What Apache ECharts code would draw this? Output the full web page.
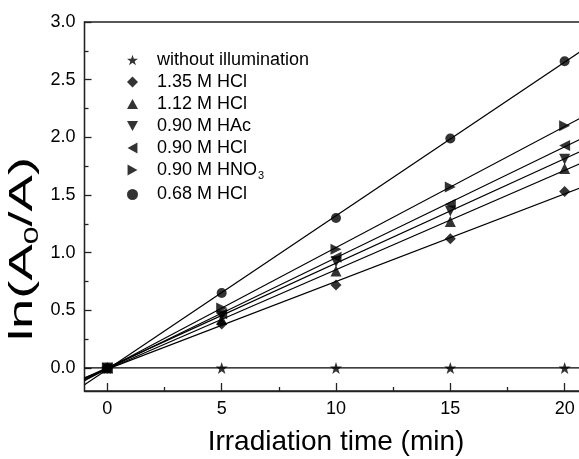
<!DOCTYPE html>
<html>
<head>
<meta charset="utf-8">
<script src="https://cdn.jsdelivr.net/npm/echarts@6/dist/echarts.min.js"></script>
<style>
html,body{margin:0;padding:0;background:#fff;}
#c{width:579px;height:459px;}
</style>
</head>
<body>
<div id="c"></div>
<script>
// ---- data ----
var time = [0, 5, 10, 15, 20];
var seriesNames = ['without illumination', '1.35 M HCl', '1.12 M HCl', '0.90 M HAc', '0.90 M HCl', '0.90 M HNO3', '0.68 M HCl'];
var darkVals   = [0, 0, 0, 0, 0];
var hcl135Vals = [0, 0.38, 0.72, 1.12, 1.53];
var hcl112Vals = [0, 0.42, 0.84, 1.27, 1.73];
var hac090Vals = [0, 0.45, 0.92, 1.36, 1.81];
var hcl090Vals = [0, 0.47, 0.96, 1.42, 1.93];
var hno3Vals   = [0, 0.52, 1.03, 1.57, 2.10];
var hcl068Vals = [0, 0.65, 1.30, 1.99, 2.66];
var xMajorTicks = [0, 5, 10, 15, 20];
var xMinorTicks = [2.5, 7.5, 12.5, 17.5];
var yMajorTicks = [0, 0.5, 1.0, 1.5, 2.0, 2.5, 3.0];
var yMinorTicks = [0.25, 0.75, 1.25, 1.75, 2.25, 2.75];

var allVals = [darkVals, hcl135Vals, hcl112Vals, hac090Vals, hcl090Vals, hno3Vals, hcl068Vals];

var STAR = 'path://M10,0 L12.35,6.76 L19.51,6.91 L13.80,11.24 L15.88,18.09 L10,14 L4.12,18.09 L6.20,11.24 L0.49,6.91 L7.65,6.76 Z';
var symbols = [
  STAR,
  'diamond',
  'path://M5,0 L10,9 L0,9 Z',
  'path://M0,0 L10,0 L5,9 Z',
  'path://M9,0 L9,10 L0,5 Z',
  'path://M0,0 L9,5 L0,10 Z',
  'circle'
];
var sizes = [12, 11, 11, 11, 11, 11, 10];

var XMIN = -1, XMAX = 21, YMIN = -0.2, YMAX = 3.0;

function fit(xs, ys) {
  var n = xs.length, mx = 0, my = 0;
  for (var i = 0; i < n; i++) { mx += xs[i]; my += ys[i]; }
  mx /= n; my /= n;
  var sxy = 0, sxx = 0;
  for (var i = 0; i < n; i++) { sxy += (xs[i]-mx)*(ys[i]-my); sxx += (xs[i]-mx)*(xs[i]-mx); }
  var b = sxy / sxx, a = my - b * mx;
  return [[XMIN, a + b * XMIN], [XMAX, a + b * XMAX]];
}

var series = [];
allVals.forEach(function (vals, k) {
  series.push({
    name: '_fit' + k, type: 'line', xAxisIndex: 0, yAxisIndex: 0,
    data: fit(time, vals), symbol: 'none', silent: true, clip: true,
    lineStyle: { color: '#000', width: 1.2 }, z: 2
  });
});
allVals.forEach(function (vals, k) {
  series.push({
    name: seriesNames[k], type: 'scatter', xAxisIndex: 0, yAxisIndex: 0,
    data: time.map(function (t, i) { return [t, vals[i]]; }),
    symbol: symbols[k], symbolSize: sizes[k],
    itemStyle: { color: '#000' }, z: 3
  });
});

var FONT = '"Liberation Sans", Arial, sans-serif';
var chart = echarts.init(document.getElementById('c'), null, { renderer: 'canvas' });

function axisCommon(min, max) {
  return { type: 'value', min: min, max: max, splitLine: { show: false } };
}

chart.setOption({
  animation: false,
  backgroundColor: '#fff',
  grid: { left: 84.5, top: 22, width: 503, bottom: 68, outerBoundsMode: 'none', containLabel: false,
    show: true, borderColor: '#222', borderWidth: 1.3, backgroundColor: 'transparent' },
  legend: {
    data: seriesNames.map(function (n, k) { return { name: n, icon: symbols[k] }; }),
    orient: 'vertical', left: 122, top: 46,
    itemWidth: 11, itemHeight: 11, itemGap: 4,
    textStyle: {
      fontFamily: FONT, fontSize: 18, color: '#000', padding: [0, 0, 0, 14],
      rich: { sub: { fontFamily: FONT, fontSize: 11, color: '#000', padding: [12, 0, 0, 1] } }
    },
    formatter: function (n) { return n === '0.90 M HNO3' ? '0.90 M HNO{sub|3}' : n; },
    itemStyle: { color: '#000' }
  },
  xAxis: [
    Object.assign(axisCommon(XMIN, XMAX), {
      position: 'bottom',
      name: 'Irradiation time (min)', nameLocation: 'middle', nameGap: 37,
      nameTextStyle: { fontFamily: FONT, fontSize: 28, color: '#000' },
      axisLine: { show: true, onZero: false, lineStyle: { color: '#222', width: 1.3 } },
      axisTick: { show: true, inside: true, length: 8, customValues: xMajorTicks, lineStyle: { color: '#222', width: 1.3 } },
      axisLabel: { customValues: xMajorTicks, margin: 9, fontFamily: FONT, fontSize: 18, color: '#000' }
    }),
    Object.assign(axisCommon(XMIN, XMAX), {
      position: 'bottom',
      axisLine: { show: false, onZero: false },
      axisTick: { show: true, inside: true, length: 4, customValues: xMinorTicks, lineStyle: { color: '#222', width: 1.3 } },
      axisLabel: { show: false }
    })
  ],
  yAxis: [
    Object.assign(axisCommon(YMIN, YMAX), {
      position: 'left',
      axisLine: { show: true, onZero: false, lineStyle: { color: '#222', width: 1.3 } },
      axisTick: { show: true, inside: true, length: 7, customValues: yMajorTicks, lineStyle: { color: '#222', width: 1.3 } },
      axisLabel: { customValues: yMajorTicks, margin: 9, fontFamily: FONT, fontSize: 18, color: '#000',
        formatter: function (v) { return v.toFixed(1); } }
    }),
    Object.assign(axisCommon(YMIN, YMAX), {
      position: 'left',
      axisLine: { show: false, onZero: false },
      axisTick: { show: true, inside: true, length: 4, customValues: yMinorTicks, lineStyle: { color: '#222', width: 1.3 } },
      axisLabel: { show: false }
    })
  ],
  graphic: [{
    type: 'text', left: 6, top: 157, rotation: Math.PI / 2, scaleX: 1.6,
    style: {
      text: 'ln(A{sub|0}/A)', fontFamily: FONT, fontSize: 34, fill: '#000',
      rich: { sub: { fontFamily: FONT, fontSize: 20, fill: '#000', padding: [19, 0, 0, 0] } }
    }
  }],
  series: series
});
</script>
</body>
</html>
